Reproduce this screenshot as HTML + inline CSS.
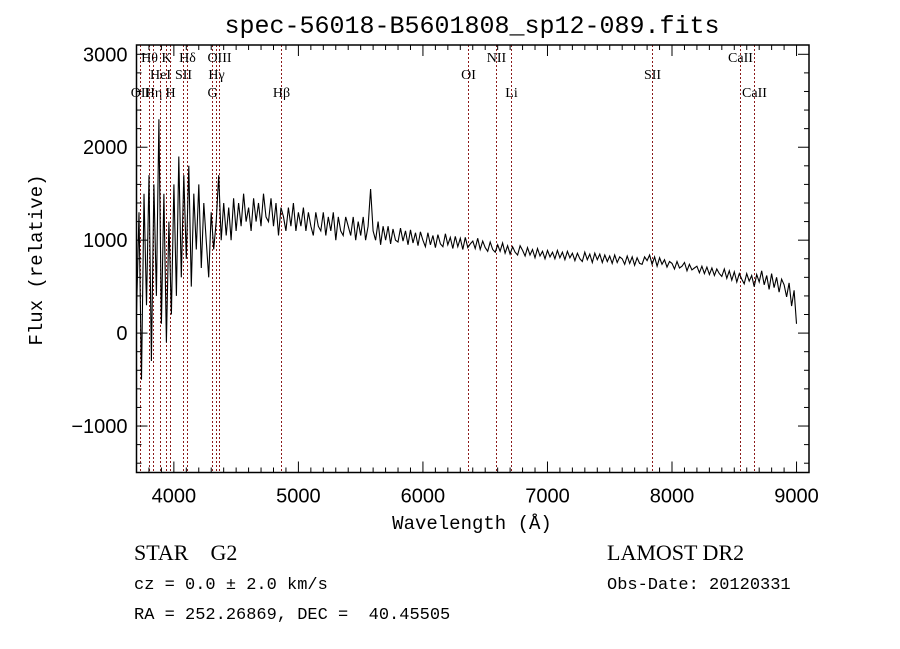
<!DOCTYPE html>
<html><head><meta charset="utf-8"><style>
body{margin:0;background:#fff}
svg{display:block}
text{font-family:"Liberation Sans",sans-serif;fill:#000;white-space:pre}
.mono{font-family:"Liberation Mono",monospace}
.serif{font-family:"Liberation Serif",serif}
</style></head><body>
<svg id="chart" width="900" height="649" viewBox="0 0 900 649" xmlns="http://www.w3.org/2000/svg" xml:space="preserve">
<rect width="900" height="649" fill="#fff"/>
<text x="472" y="33" font-size="25" text-anchor="middle" class="mono">spec-56018-B5601808_sp12-089.fits</text>
<g id="lines"></g>
<g id="axes"></g>
<path id="spec" fill="none" stroke="#000" stroke-width="1.1"/>
<text x="472" y="529" font-size="19" text-anchor="middle" class="mono">Wavelength (Å)</text>
<text transform="translate(42,260) rotate(-90)" font-size="19" text-anchor="middle" class="mono">Flux (relative)</text>
<text x="134" y="560" font-size="22" class="serif">STAR    G2</text>
<text x="134" y="589" font-size="17" class="mono">cz = 0.0 ± 2.0 km/s</text>
<text x="134" y="619" font-size="17" class="mono">RA = 252.26869, DEC =  40.45505</text>
<text x="607" y="560" font-size="22" class="serif">LAMOST DR2</text>
<text x="607" y="589" font-size="17" class="mono">Obs-Date: 20120331</text>
</svg>
<script>
const wlStart = 3700, wlStep = 20;
const flux = [200,1300,-500,1500,300,
1700,-300,1600,400,2300,100,1500,-100,1200,200,
1600,400,1900,600,1700,800,1800,500,1500,900,
1600,700,1400,1000,600,1300,900,1200,1700,1000,
1400,1050,1350,1000,1450,1100,1400,1150,1500,1200,
1350,1100,1450,1200,1400,1150,1500,1250,1200,1450,
1150,1400,1050,1350,1250,1100,1350,1150,1400,1100,
1300,1150,1350,1100,1300,1150,1050,1300,1150,1100,
1300,1050,1250,1100,1300,1000,1250,1100,1050,1250,
1150,1050,1250,1000,1200,1050,1250,1000,1150,1550,
1100,1000,1200,950,1150,1000,1150,960,1120,1000,
980,1130,990,1100,950,1110,970,1080,940,1090,
1000,930,1080,950,1050,920,1060,960,930,1070,
950,1030,910,1040,930,1020,900,1030,920,960,
990,910,1020,900,990,920,880,980,900,870,
950,880,970,860,940,850,930,870,840,940,
890,830,920,840,900,810,910,830,880,800,
890,820,870,800,890,810,870,790,880,810,
860,780,860,800,770,870,790,850,760,860,
790,850,760,840,770,830,750,840,760,820,
800,740,830,750,820,730,810,750,740,820,
780,840,740,820,720,810,740,790,710,770,
750,690,770,700,720,760,670,740,680,700,
720,650,720,640,710,630,700,620,690,640,
610,690,590,670,570,660,550,640,580,530,
640,560,620,500,630,550,670,520,620,470,
640,490,600,440,580,520,390,540,290,460,
100];
const lineNames = ["OII","Hθ","Hη","HeI","K","H","SII","Hδ","G","Hγ","OIII","Hβ","OI","NII","Li","SII","CaII","CaII"];
const lineWaves = [3727,3798,3835,3889,3934,3969,4072,4102,4305,4340,4363,4861,6363,6583,6707,7843,8542,8662];
const lineRows = [2,0,2,1,0,2,1,0,2,1,0,2,1,0,2,1,0,2];
const xTicks = [4000,5000,6000,7000,8000,9000];
const yTicks = [-1000,0,1000,2000,3000];

const L=136.5,R=809,T=45,B=472.5, xmin=3700,xmax=9100,ymin=-1500,ymax=3100;
const X=w=>L+(w-xmin)/(xmax-xmin)*(R-L);
const Y=v=>B-(v-ymin)/(ymax-ymin)*(B-T);
const NS="http://www.w3.org/2000/svg";
function mk(tag,parent,attrs){const e=document.createElementNS(NS,tag);for(const k in attrs)e.setAttribute(k,attrs[k]);parent.appendChild(e);return e;}

let d="";
flux.forEach((f,i)=>{d+=(i?"L":"M")+X(wlStart+i*wlStep).toFixed(1)+","+Y(f).toFixed(1);});
document.getElementById("spec").setAttribute("d",d);

const lg=document.getElementById("lines");
const rowY=[62,79,97];
lineWaves.forEach((w,i)=>{
  const px=Math.round(X(w))+0.5;
  const l=mk("line",lg,{x1:px,x2:px,y1:T,y2:B,stroke:"#8b1a1a","stroke-width":1,"stroke-dasharray":"2,2"});
  
  
  const t=mk("text",lg,{x:px,y:rowY[lineRows[i]],"font-size":14,"text-anchor":"middle",class:"serif"});
  t.textContent=lineNames[i];
  
  
});

const ax=document.getElementById("axes");
const frame=mk("rect",ax,{x:L,y:T,width:R-L,height:B-T,fill:"none",stroke:"#000","stroke-width":1.5});


for(let w=3700;w<=9100;w+=100){
  const maj=w%1000===0, len=maj?11:5;
  mk("line",ax,{x1:X(w),x2:X(w),y1:B,y2:B-len,stroke:"#000"});
  mk("line",ax,{x1:X(w),x2:X(w),y1:T,y2:T+len,stroke:"#000"});
}
xTicks.forEach(w=>{
  const t=mk("text",ax,{x:X(w),y:B+30,"font-size":20,"text-anchor":"middle"});
  t.textContent=w;
  
  
});
for(let v=-1400;v<=3000;v+=200){
  const maj=v%1000===0, len=maj?11:5;
  mk("line",ax,{x1:L,x2:L+len,y1:Y(v),y2:Y(v),stroke:"#000"});
  mk("line",ax,{x1:R,x2:R-len,y1:Y(v),y2:Y(v),stroke:"#000"});
}
yTicks.forEach(v=>{
  const t=mk("text",ax,{x:L-9,y:Y(v)+7,"font-size":20,"text-anchor":"end"});
  t.textContent=v<0?"−"+Math.abs(v):v;
  
  
});
</script>
</body></html>
